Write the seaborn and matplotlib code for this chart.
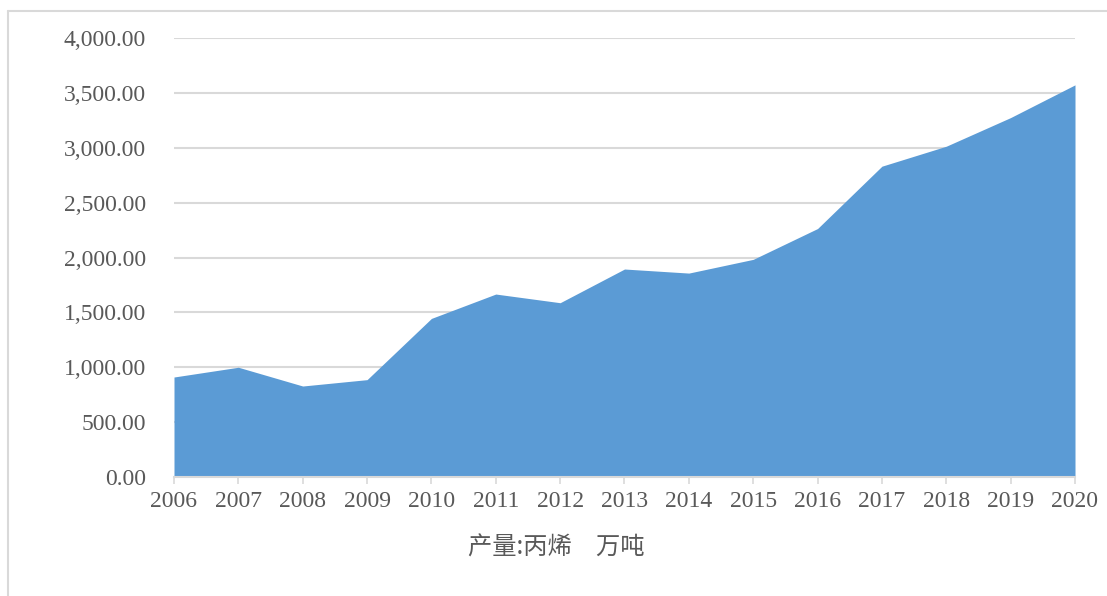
import matplotlib
matplotlib.use("Agg")
import matplotlib.pyplot as plt
import matplotlib.ticker as mticker
from matplotlib.lines import Line2D
import seaborn as sns

years = [2006, 2007, 2008, 2009, 2010, 2011, 2012, 2013,
         2014, 2015, 2016, 2017, 2018, 2019, 2020]
output = [911, 1000, 829, 887, 1445, 1667, 1588, 1895,
          1858, 1983, 2264, 2832, 3014, 3275, 3573]
yticks = [0, 500, 1000, 1500, 2000, 2500, 3000, 3500, 4000]
label = "产量:丙烯　万吨"

sns.set_theme(style="white")
plt.rcParams["font.family"] = ["Liberation Serif", "Noto Sans CJK SC"]

fig = plt.figure(figsize=(11.07, 5.96), dpi=100)
ax = fig.add_axes([174 / 1107, 1 - 477 / 596, (1075 - 174) / 1107, (477 - 38) / 596])

sns.lineplot(x=years, y=output, ax=ax, color="#5B9BD5", linewidth=0)
ax.fill_between(years, output, 0, color="#5B9BD5", linewidth=0, zorder=2)

ax.set_xlim(years[0], years[-1])
ax.set_ylim(0, 4000)
ax.set_xticks(years)
ax.set_yticks(yticks)
ax.yaxis.set_major_formatter(mticker.FuncFormatter(lambda v, p: f"{v:,.2f}"))
ax.grid(axis="y", color="#d9d9d9", linewidth=1.5, zorder=0)
ax.set_axisbelow(True)

for s in ["top", "right", "left"]:
    ax.spines[s].set_visible(False)
ax.spines["bottom"].set_color("#d9d9d9")
ax.spines["bottom"].set_linewidth(1.5)
ax.spines["bottom"].set_zorder(3)

ax.tick_params(axis="x", bottom=True, length=5, width=1.2, color="#d9d9d9",
               labelsize=17, labelcolor="#595959", pad=5)
ax.tick_params(axis="y", left=False, labelsize=17, labelcolor="#595959", pad=14)

fig.text(556 / 1107, 1 - 548 / 596, label, ha="center", va="center",
         fontsize=17.5, color="#595959", family=["Noto Sans CJK SC", "DejaVu Sans"])

# outer chart frame
fig.add_artist(Line2D([8 / 1107, 1], [1 - 11 / 596, 1 - 11 / 596],
                      transform=fig.transFigure, color="#d9d9d9", linewidth=1.5))
fig.add_artist(Line2D([8 / 1107, 8 / 1107], [0, 1 - 11 / 596],
                      transform=fig.transFigure, color="#d9d9d9", linewidth=1.5))

plt.savefig("out.png", dpi=100)
plt.close()
